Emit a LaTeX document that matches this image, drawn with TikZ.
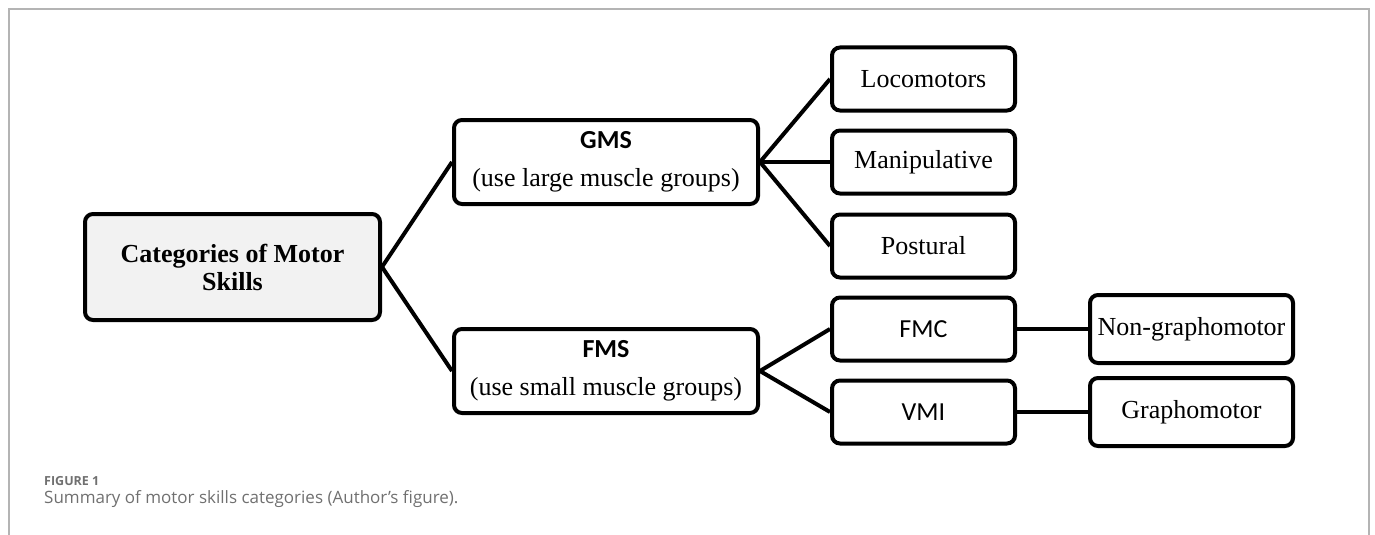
\documentclass[tikz,border=0pt]{standalone}
\usepackage{fontspec}
\setmainfont{Liberation Serif}
\newfontfamily\calib{Carlito}
\newfontfamily\capfont{Open Sans}
\usetikzlibrary{positioning}
\definecolor{framegray}{HTML}{B4B4B4}
\definecolor{capgray}{HTML}{707070}
\definecolor{rootfill}{HTML}{F2F2F2}

\begin{document}
\begin{tikzpicture}[x=1pt,y=1pt,
        font=\fontsize{26}{29}\selectfont,
        box/.style={draw,line width=4pt,fill=white,rounded corners=8pt,
          minimum width=183pt,minimum height=63pt,align=center,inner sep=2pt},
        ln/.style={line width=4pt}]
        \useasboundingbox (0,0) rectangle (1375,-535);
        % frame
        \draw[framegray,line width=2pt] (9,-535)--(9,-9)--(1369,-9)--(1369,-535);
        % tree
        \node[box,fill=rootfill,minimum width=295pt,minimum height=106pt,
          font=\fontsize{26}{28}\selectfont\bfseries] (cat) at (232.5,-267)
          {Categories of Motor\\Skills};
        \node[box,minimum width=304pt,minimum height=84pt,font=\fontsize{26}{38}\selectfont]
          (gms) at (606,-162) {{\calib\bfseries GMS}\\(use large muscle groups)};
        \node[box,minimum width=304pt,minimum height=84pt,font=\fontsize{26}{38}\selectfont,
          below=121pt of gms] (fms) {{\calib\bfseries FMS}\\(use small muscle groups)};
        \node[box] (loc) at (923.5,-79) {Locomotors};
        \node[box,below=16pt of loc] (man) {Manipulative};
        \node[box,below=17pt of man] (pos) {Postural};
        \node[box,below=16pt of pos] (fmc) {\calib FMC};
        \node[box,below=16pt of fmc] (vmi) {\calib VMI};
        \node[box,minimum width=203pt,minimum height=68pt,right=71pt of fmc] (ngm) {Non-graphomotor};
        \node[box,minimum width=203pt,minimum height=68pt,below=11pt of ngm] (grm) {Graphomotor};
        \draw[ln] (cat.east)--(gms.west);
        \draw[ln] (cat.east)--(fms.west);
        \draw[ln] (gms.east)--(loc.west);
        \draw[ln] (gms.east)--(man.west);
        \draw[ln] (gms.east)--(pos.west);
        \draw[ln] (fms.east)--(fmc.west);
        \draw[ln] (fms.east)--(vmi.west);
        \draw[ln] (fmc.east)--(ngm.west);
        \draw[ln] (vmi.east)--(grm.west);
        % caption
        \node[anchor=base west,inner sep=0pt,text=capgray,font=\capfont\fontsize{12.5}{14}\selectfont\bfseries]
          (fig) at (44,-485) {FIGURE 1};
        \node[anchor=base west,inner sep=0pt,text=capgray,font=\capfont\fontsize{17}{20}\selectfont]
          (cap) at (44,-503) {Summary of motor skills categories (Author’s figure).};
      \end{tikzpicture}
\end{document}
